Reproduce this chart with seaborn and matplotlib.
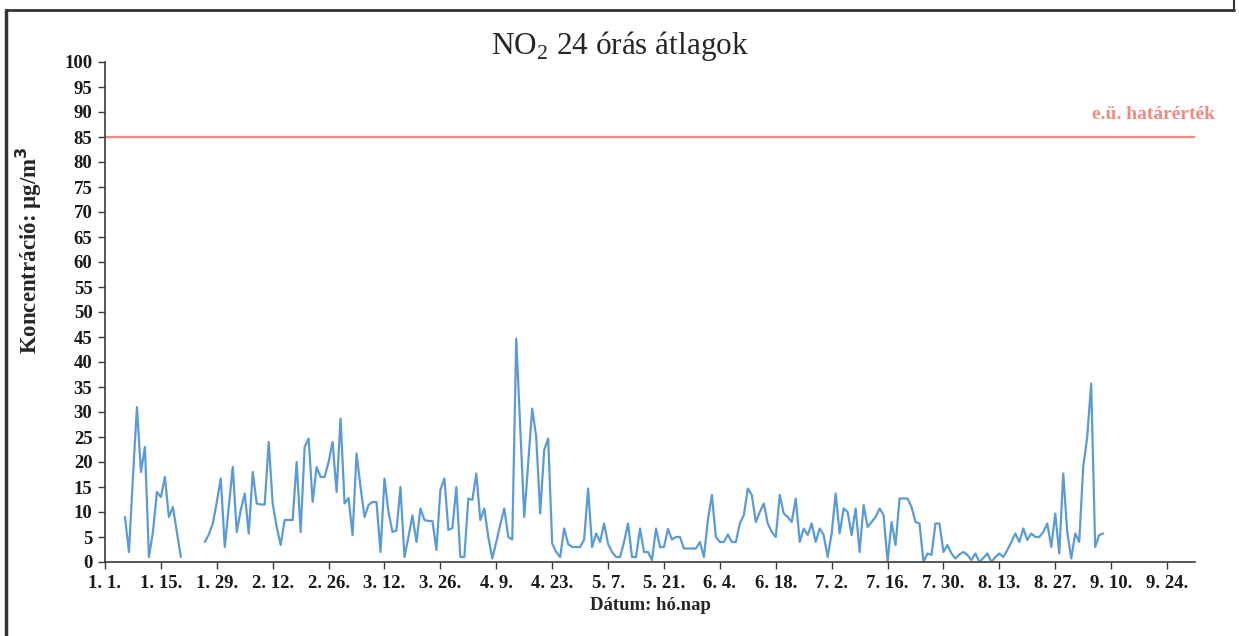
import numpy as np
import pandas as pd
import matplotlib
matplotlib.use("Agg")
import matplotlib.pyplot as plt
import seaborn as sns
from matplotlib.lines import Line2D

# Daily NO2 means (µg/m³), day offsets counted from 1 January
days_winter = list(range(5, 20))
no2_winter = [9, 2, 17, 31, 18, 23, 1, 6, 14, 13, 17, 9, 11, 6, 1]

days_main = list(range(25, 251))
no2_main = [
    4, 5.5, 7.7, 12, 16.7, 3, 11, 19, 6, 10.4,                # 25-34
    13.7, 5.7, 18, 11.7, 11.5, 11.5, 24, 11.7, 7, 3.4,        # 35-44
    8.4, 8.4, 8.4, 20, 6, 23, 24.7, 12, 19, 17,               # 45-54
    17, 20, 24, 14, 28.7, 11.7, 12.8, 5.4, 21.7, 15,          # 55-64
    9, 11.4, 12, 12, 2, 16.7, 10, 6, 6.3, 15,                 # 65-74
    1, 5, 9.3, 4, 10.7, 8.4, 8.2, 8.2, 2.4, 14.4,             # 75-84
    16.7, 6.4, 6.8, 15, 1, 1, 12.7, 12.4, 17.7, 8.4,          # 85-94
    10.7, 5, 0.7, 4, 7.5, 10.7, 5, 4.5, 44.7, 27,             # 95-104
    9, 20, 30.7, 25, 9.7, 22.4, 24.7, 3.7, 2, 1,              # 105-114
    6.7, 3.6, 3, 3, 3, 4.5, 14.7, 3, 5.7, 4,                  # 115-124
    7.7, 3.6, 2, 1, 1, 4, 7.7, 1, 1, 6.7,                     # 125-134
    2, 2, 0.4, 6.7, 3, 3, 6.6, 4.5, 5, 5,                     # 135-144
    2.7, 2.7, 2.7, 2.7, 4, 1, 8.4, 13.4, 5, 4,                # 145-154
    4, 5.5, 4, 4, 7.7, 9.4, 14.7, 13.4, 8, 10,                # 155-164
    11.7, 7.7, 6, 5, 13.4, 9.7, 9, 8, 12.7, 4,                # 165-174
    6.7, 5.4, 7.7, 4, 6.7, 5.4, 1, 5.7, 13.7, 5.7,            # 175-184
    10.7, 10, 5.4, 10.7, 2, 11.4, 7, 8, 9, 10.7,              # 185-194
    9.4, 0, 8, 3.4, 12.7, 12.7, 12.7, 11, 8, 7.7,             # 195-204
    0, 1.7, 1.4, 7.7, 7.7, 2, 3.4, 1.7, 0.7, 1.5,             # 205-214
    2, 1.4, 0.4, 1.7, 0, 0.8, 1.7, 0, 1, 1.7,                 # 215-224
    1, 2.4, 4, 5.7, 4, 6.7, 4.4, 5.7, 5, 5,                   # 225-234
    6, 7.7, 3, 9.7, 1.7, 17.7, 6, 0.7, 5.7, 4,                # 235-244
    19, 25, 35.7, 3, 5.4, 5.7,                                # 245-250
]

limit_value = 85
tick_days = list(range(0, 267, 14))
tick_labels = ["1. 1.", "1. 15.", "1. 29.", "2. 12.", "2. 26.", "3. 12.",
               "3. 26.", "4. 9.", "4. 23.", "5. 7.", "5. 21.", "6. 4.",
               "6. 18.", "7. 2.", "7. 16.", "7. 30.", "8. 13.", "8. 27.",
               "9. 10.", "9. 24."]

df = pd.DataFrame({
    "day": days_winter + days_main,
    "no2": no2_winter + no2_main,
    "segment": ["a"] * len(days_winter) + ["b"] * len(days_main),
})

sns.set_theme(style="white")
plt.rcParams["font.family"] = ["Liberation Serif", "DejaVu Serif"]

blue = "#5B9BD5"
red = "#F08A80"

fig = plt.figure(figsize=(12.39, 6.36), dpi=100)
ax = fig.add_axes([105 / 1239, 1 - 562 / 636, 1090 / 1239, 500 / 636])

sns.lineplot(data=df, x="day", y="no2", units="segment", estimator=None,
             color=blue, linewidth=1.6, ax=ax, legend=False)
ax.axhline(limit_value, color=red, linewidth=1.6)
ax.text(1.0185, limit_value + 4.5, "e.ü. határérték", color=red, fontsize=14,
        fontweight="bold", ha="right", va="center",
        transform=ax.get_yaxis_transform())

ax.set_xlim(0, 273)
ax.set_ylim(0, 100)
ax.set_yticks(range(0, 101, 5))
ax.set_xticks(tick_days)
ax.set_xticklabels(tick_labels)
for lab in ax.get_xticklabels() + ax.get_yticklabels():
    lab.set_fontweight("bold")
    lab.set_fontsize(13.5)
    lab.set_color("#1a1a1a")

for side in ("top", "right"):
    ax.spines[side].set_visible(False)
for side in ("left", "bottom"):
    ax.spines[side].set_color("#3a3a3a")
    ax.spines[side].set_linewidth(1.2)
ax.tick_params(axis="y", direction="out", length=5, width=1, color="#3a3a3a",
               left=True, pad=4)
ax.tick_params(axis="x", direction="out", length=5, width=1, color="#3a3a3a",
               bottom=True, pad=4)

ax.set_xlabel("Dátum: hó.nap", fontsize=13.5, fontweight="bold", labelpad=4)
ax.set_ylabel("Koncentráció: µg/m$^\\mathbf{3}$", fontsize=16.5,
              fontweight="bold")
ax.yaxis.set_label_coords(-0.056, 0.624)
fig.text(0.5, 1 - 46 / 636, "NO$_\\mathregular{2}$ 24 órás átlagok", fontsize=22.5,
         ha="center", va="center")

# Surrounding frame
fig.add_artist(Line2D([6 / 1239, 6 / 1239], [0, 1 - 10 / 636],
                      transform=fig.transFigure, color="#333333", linewidth=2.5))
fig.add_artist(Line2D([6 / 1239, 1234 / 1239], [1 - 10 / 636, 1 - 10 / 636],
                      transform=fig.transFigure, color="#333333", linewidth=2))
fig.add_artist(Line2D([1234 / 1239, 1234 / 1239], [1 - 10 / 636, 1],
                      transform=fig.transFigure, color="#333333", linewidth=1.5))

fig.savefig("out.png", dpi=100, facecolor="white")
